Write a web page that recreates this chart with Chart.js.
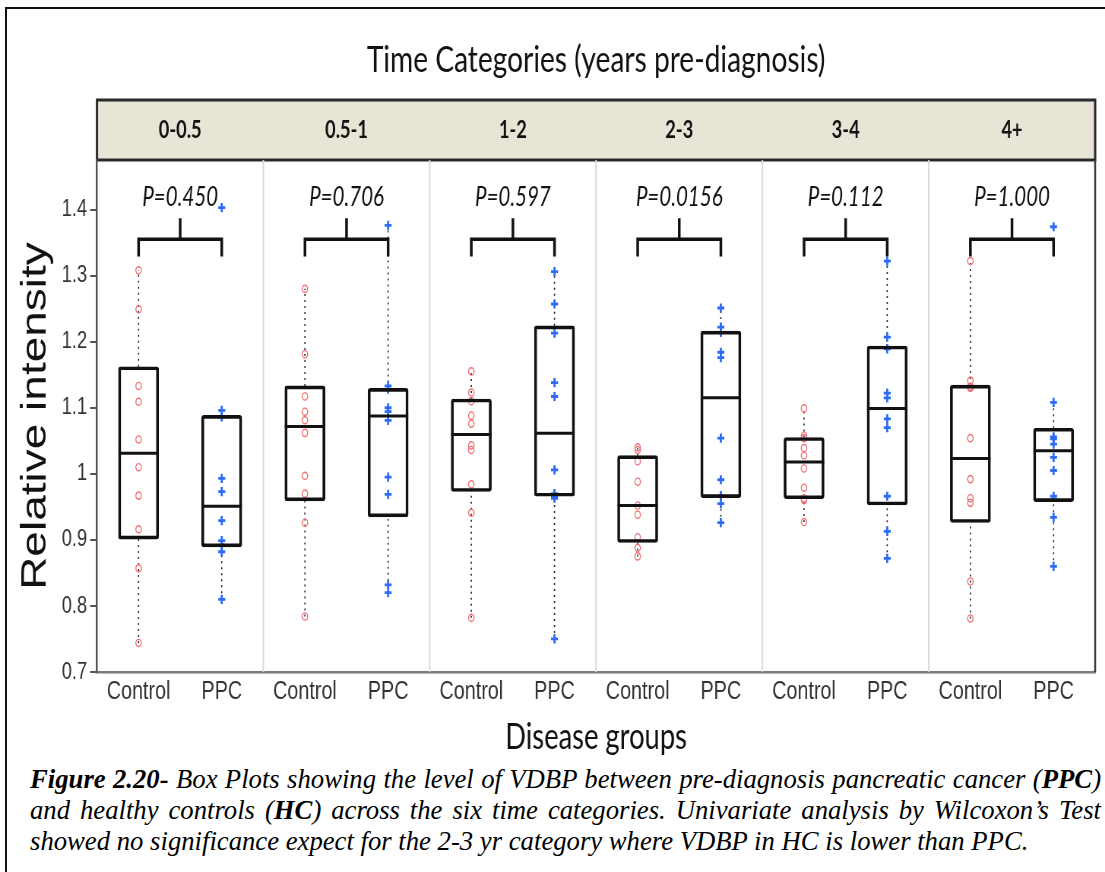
<!DOCTYPE html>
<html>
<head>
<meta charset="utf-8">
<title>VDBP box plots by time category</title>
<script src="https://cdn.jsdelivr.net/npm/chart.js@4.4.1/dist/chart.umd.min.js"></script>
<style>
  html, body { margin: 0; padding: 0; background: #fff; overflow: hidden; }
  body { width: 1105px; height: 872px; position: relative; }
  .frame { position: absolute; left: 5px; top: 7px; width: 1200px; height: 1000px; border: 2px solid #111; }
  /* the figure is laid out wide and squeezed to fit the page column */
  .figure { position: absolute; left: 0; top: 0; width: 1454px; height: 760px; transform: scaleX(0.76); transform-origin: 0 0; }
  .caption { position: absolute; left: 30px; top: 764px; width: 1071px; font: italic 26.7px "Liberation Serif", "Times New Roman", serif; line-height: 31px; color: #000; }
  .caption .j { text-align: justify; text-align-last: justify; }
</style>
</head>
<body>
<div class="frame"></div>
<div class="figure"><canvas id="boxChart"></canvas></div>
<div class="caption">
  <div class="j"><b>Figure 2.20-</b> Box Plots showing the level of VDBP between pre-diagnosis pancreatic cancer (<b>PPC</b>)</div>
  <div class="j">and healthy controls (<b>HC</b>) across the six time categories. Univariate analysis by Wilcoxon’s Test</div>
  <div>showed no significance expect for the 2-3 yr category where VDBP in HC is lower than PPC.</div>
</div>
<script>
const panels = ["0-0.5", "0.5-1", "1-2", "2-3", "3-4", "4+"];
const groups = ["Control", "PPC"];
const pLabels = ["P=0.450", "P=0.706", "P=0.597", "P=0.0156", "P=0.112", "P=1.000"];
const yTicks = [0.7, 0.8, 0.9, 1, 1.1, 1.2, 1.3, 1.4];
const yTickLabels = ["0.7", "0.8", "0.9", "1", "1.1", "1.2", "1.3", "1.4"];

// relative intensity per subject, one array per time category
const controlValues = [
  [1.308, 1.249, 1.133, 1.109, 1.052, 1.010, 0.967, 0.916, 0.857, 0.744],
  [1.280, 1.181, 1.117, 1.094, 1.081, 1.062, 0.997, 0.970, 0.926, 0.784],
  [1.155, 1.123, 1.110, 1.088, 1.076, 1.043, 1.036, 0.984, 0.941, 0.782],
  [1.040, 1.036, 1.019, 0.988, 0.952, 0.938, 0.904, 0.888, 0.875],
  [1.099, 1.058, 1.054, 1.039, 1.028, 1.008, 0.979, 0.963, 0.960, 0.927],
  [1.322, 1.141, 1.132, 1.130, 1.054, 0.992, 0.963, 0.956, 0.837, 0.781]
];
const ppcValues = [
  [1.403, 1.096, 1.086, 0.993, 0.973, 0.929, 0.899, 0.892, 0.882, 0.810],
  [1.376, 1.133, 1.128, 1.100, 1.094, 1.081, 0.995, 0.969, 0.832, 0.820],
  [1.306, 1.257, 1.213, 1.138, 1.117, 1.006, 0.970, 0.967, 0.963, 0.750],
  [1.251, 1.222, 1.214, 1.184, 1.176, 1.054, 0.991, 0.967, 0.955, 0.926],
  [1.322, 1.207, 1.189, 1.122, 1.115, 1.083, 1.070, 0.966, 0.913, 0.872],
  [1.374, 1.108, 1.056, 1.053, 1.045, 1.025, 1.005, 0.966, 0.934, 0.860]
];

const xLabels = panels.flatMap(() => groups);
const series = panels.flatMap((p, i) => [controlValues[i], ppcValues[i]]);

// quartiles on the (n+1) basis, whiskers to the last point inside 1.5 IQR
function quantile(sorted, p) {
  const pos = p * (sorted.length + 1);
  const k = Math.floor(pos);
  if (k < 1) return sorted[0];
  if (k >= sorted.length) return sorted[sorted.length - 1];
  return sorted[k - 1] + (pos - k) * (sorted[k] - sorted[k - 1]);
}

function boxStats(values) {
  const s = [...values].sort((a, b) => a - b);
  const q1 = quantile(s, 0.25);
  const med = quantile(s, 0.5);
  const q3 = quantile(s, 0.75);
  const iqr = q3 - q1;
  const inside = s.filter((v) => v >= q1 - 1.5 * iqr && v <= q3 + 1.5 * iqr);
  return { q1, med, q3, lo: inside[0], hi: inside[inside.length - 1] };
}

const stats = series.map(boxStats);

function line(ctx, x1, y1, x2, y2) {
  ctx.beginPath();
  ctx.moveTo(x1, y1);
  ctx.lineTo(x2, y2);
  ctx.stroke();
}

const panelDecor = {
  id: "panelDecor",
  beforeDraw(chart, args, opts) {
    const { ctx, chartArea: a } = chart;
    ctx.save();
    ctx.fillStyle = "#e8e4d6";
    ctx.fillRect(a.left, a.top - opts.stripHeight, a.right - a.left, opts.stripHeight);
    ctx.strokeStyle = "#2a2a2a";
    ctx.lineWidth = 3;
    ctx.strokeRect(a.left, a.top - opts.stripHeight, a.right - a.left, opts.stripHeight);
    ctx.restore();
  },
  beforeDatasetsDraw(chart) {
    const { ctx, chartArea: a, scales: { x, y } } = chart;
    ctx.save();
    ctx.strokeStyle = "#d9d9d9";
    ctx.lineWidth = 2;
    for (let i = 1; i < panels.length; i++) {
      const px = x.getPixelForValue(2 * i - 0.5);
      line(ctx, px, a.top, px, a.bottom);
    }
    ctx.strokeStyle = "#3a3a3a";
    ctx.lineWidth = 2.5;
    line(ctx, a.right, a.top, a.right, a.bottom);

    ctx.strokeStyle = "#222";
    ctx.lineWidth = 1.6;
    ctx.setLineDash([2, 4]);
    stats.forEach((s, i) => {
      const px = x.getPixelForValue(i);
      line(ctx, px, y.getPixelForValue(s.lo), px, y.getPixelForValue(s.q1));
      line(ctx, px, y.getPixelForValue(s.q3), px, y.getPixelForValue(s.hi));
    });
    ctx.restore();
  },
  afterDatasetsDraw(chart, args, opts) {
    const { ctx, scales: { x, y } } = chart;
    const boxes = chart.getDatasetMeta(0).data;
    ctx.save();
    ctx.strokeStyle = "#111";
    ctx.lineWidth = 3;
    stats.forEach((s, i) => {
      const px = x.getPixelForValue(i);
      const half = boxes[i].width / 2;
      const py = y.getPixelForValue(s.med);
      line(ctx, px - half, py, px + half, py);
    });

    const b = opts.bracket;
    ctx.lineWidth = 3.5;
    ctx.fillStyle = "#111";
    ctx.font = "italic 27px Lato";
    ctx.textAlign = "center";
    ctx.textBaseline = "middle";
    pLabels.forEach((label, k) => {
      const x1 = x.getPixelForValue(2 * k);
      const x2 = x.getPixelForValue(2 * k + 1);
      const cx = (x1 + x2) / 2;
      const yBar = y.getPixelForValue(b.bar);
      const yFoot = y.getPixelForValue(b.foot);
      ctx.beginPath();
      ctx.moveTo(x1, yFoot);
      ctx.lineTo(x1, yBar);
      ctx.lineTo(x2, yBar);
      ctx.lineTo(x2, yFoot);
      ctx.moveTo(cx, yBar);
      ctx.lineTo(cx, y.getPixelForValue(b.stem));
      ctx.stroke();
      ctx.fillText(label, cx, y.getPixelForValue(b.label));
    });
    ctx.restore();
  }
};

const controlPoints = controlValues.flatMap((vals, i) => vals.map((v) => ({ x: 2 * i, y: v })));
const ppcPoints = ppcValues.flatMap((vals, i) => vals.map((v) => ({ x: 2 * i + 1, y: v })));

new Chart(document.getElementById("boxChart"), {
  type: "bar",
  data: {
    datasets: [
      {
        type: "bar",
        label: "box",
        data: stats.map((s, i) => ({ x: i, y: [s.q1, s.q3] })),
        backgroundColor: "rgba(0,0,0,0)",
        borderColor: "#111",
        borderWidth: 3,
        borderSkipped: false,
        borderRadius: 3,
        barThickness: 53
      },
      {
        type: "scatter",
        label: groups[0],
        data: controlPoints,
        pointStyle: "circle",
        pointRadius: 3.6,
        pointBorderWidth: 1.4,
        borderColor: "#ef6f73",
        backgroundColor: "rgba(0,0,0,0)"
      },
      {
        type: "scatter",
        label: groups[1],
        data: ppcPoints,
        pointStyle: "cross",
        pointRadius: 4.6,
        pointBorderWidth: 2.8,
        borderColor: "#2e6cf5",
        backgroundColor: "#2e6cf5"
      }
    ]
  },
  options: {
    responsive: true,
    maintainAspectRatio: false,
    animation: false,
    layout: { padding: { top: 0, left: 0, right: 13, bottom: 0 } },
    plugins: {
      legend: { display: false },
      tooltip: { enabled: false },
      panelDecor: {
        stripHeight: 60,
        bracket: { stem: 1.387, bar: 1.355, foot: 1.329, label: 1.419 }
      }
    },
    scales: {
      x: {
        type: "linear",
        position: "bottom",
        offset: false,
        min: -0.5,
        max: 11.5,
        afterBuildTicks: (scale) => { scale.ticks = xLabels.map((l, i) => ({ value: i })); },
        afterFit: (scale) => { scale.height = 88; },
        grid: { display: false, drawTicks: false, offset: false },
        border: { display: true, color: "#7a7a7a", width: 2.5 },
        ticks: {
          autoSkip: false,
          maxRotation: 0,
          padding: 4,
          color: "#333",
          font: { family: "Liberation Sans", size: 26 },
          callback: (v, i) => xLabels[i]
        },
        title: {
          display: true,
          text: "Disease groups",
          color: "#111",
          font: { family: "Lato", size: 36 },
          padding: { top: 0, bottom: 1 }
        }
      },
      x2: {
        type: "linear",
        position: "top",
        offset: false,
        min: -0.5,
        max: 11.5,
        afterBuildTicks: (scale) => { scale.ticks = panels.map((p, i) => ({ value: 2 * i + 0.5 })); },
        afterFit: (scale) => { scale.height = 160; },
        grid: { display: false, drawTicks: false, offset: false },
        border: { display: false },
        ticks: {
          autoSkip: false,
          maxRotation: 0,
          padding: 15,
          color: "#111",
          font: { family: "Lato", size: 24, weight: "bold" },
          callback: (v, i) => panels[i]
        },
        title: {
          display: true,
          text: "Time Categories (years pre-diagnosis)",
          color: "#111",
          font: { family: "Lato", size: 37 },
          padding: { top: 38, bottom: 0 }
        }
      },
      y: {
        type: "linear",
        min: 0.7,
        max: 1.475,
        afterBuildTicks: (scale) => { scale.ticks = yTicks.map((v) => ({ value: v })); },
        afterFit: (scale) => { scale.width = 127.6; },
        grid: { drawOnChartArea: false, drawTicks: true, tickLength: 9, color: "#555", lineWidth: 2 },
        border: { display: true, color: "#555", width: 2.5 },
        ticks: {
          padding: 4,
          color: "#333",
          font: { family: "Liberation Sans", size: 24 },
          callback: (v, i) => yTickLabels[i]
        },
        title: {
          display: true,
          text: "Relative intensity",
          color: "#111",
          font: { family: "Liberation Sans", size: 46 },
          padding: { top: 20, bottom: 0 }
        }
      }
    }
  },
  plugins: [panelDecor]
});
</script>
</body>
</html>
